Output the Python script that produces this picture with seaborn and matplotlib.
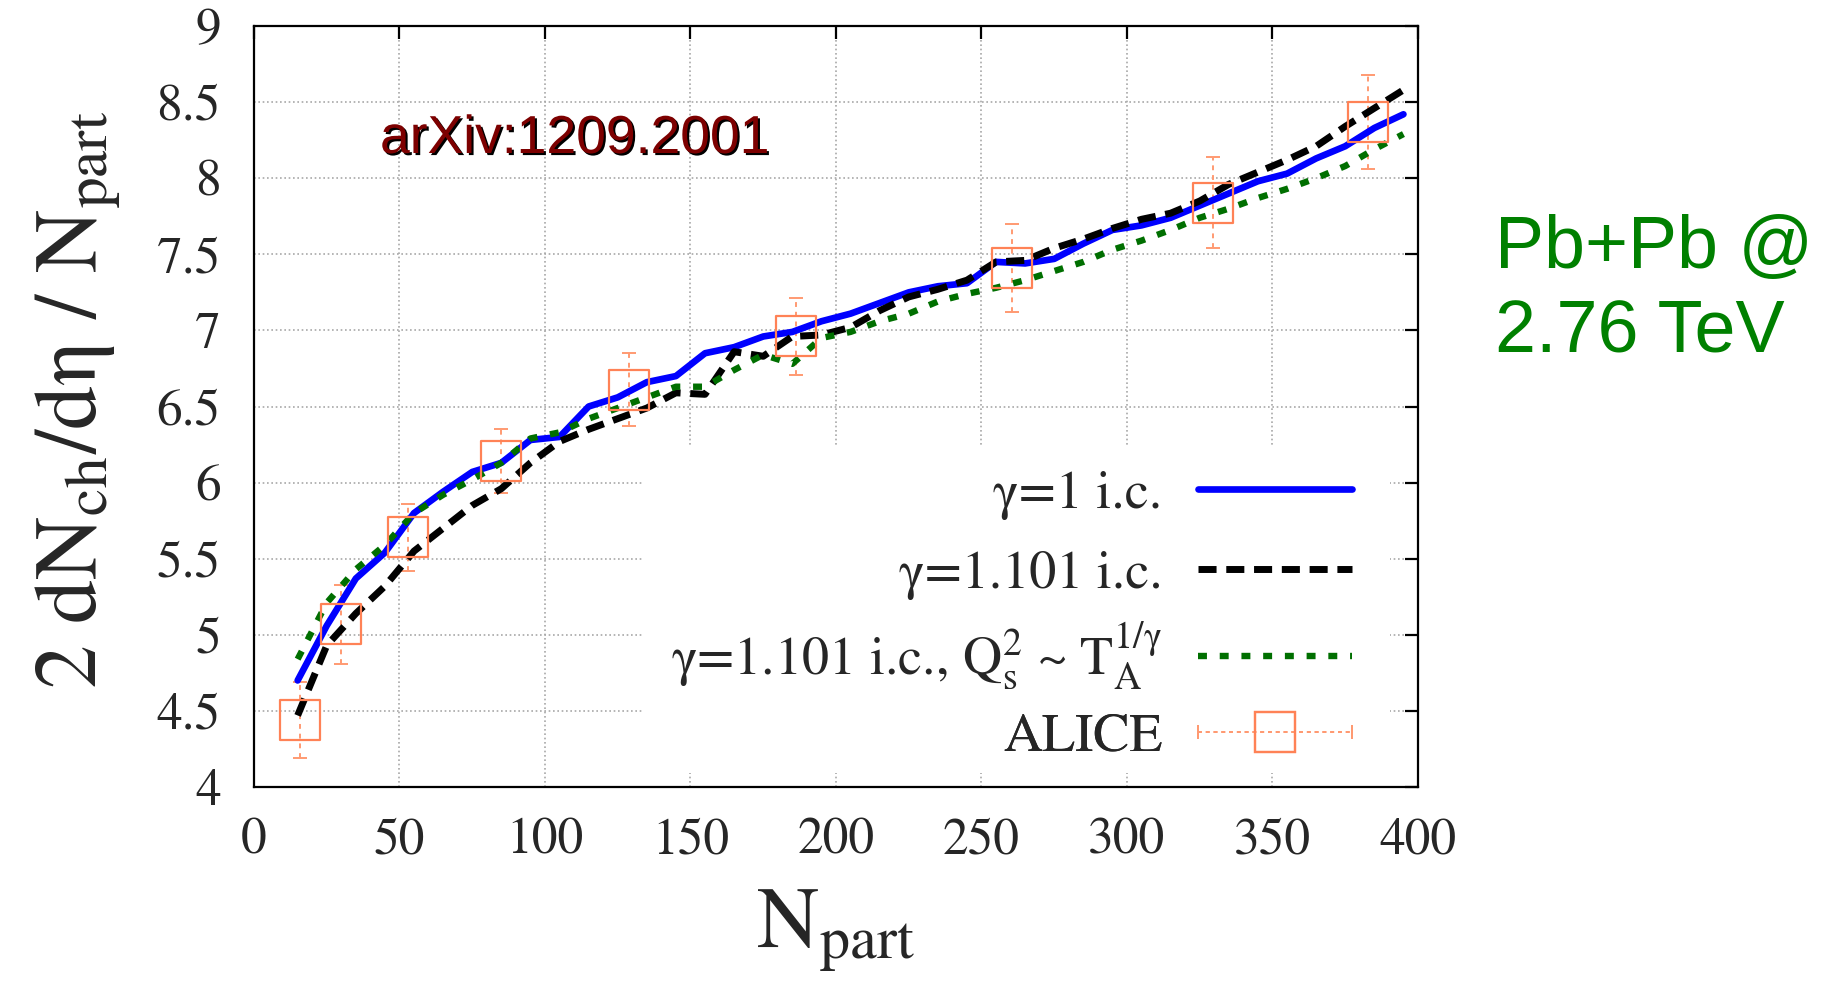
import numpy as np
import pandas as pd
import matplotlib
matplotlib.use("Agg")
import matplotlib.pyplot as plt
import matplotlib.patheffects as pe
from matplotlib.lines import Line2D
from matplotlib.patches import Rectangle
from matplotlib.legend_handler import HandlerLine2D
import seaborn as sns

# ---------------- data ----------------
npart = [15, 25, 35, 45, 55, 65, 75, 85, 95, 105, 115, 125, 135, 145, 155,
         165, 175, 185, 195, 205, 215, 225, 235, 245, 255, 265, 275, 285,
         295, 305, 315, 325, 335, 345, 355, 365, 375, 385, 395]
gamma1 = [4.70, 5.06, 5.37, 5.54, 5.80, 5.94, 6.07, 6.13, 6.28, 6.30, 6.50,
          6.56, 6.66, 6.70, 6.85, 6.89, 6.96, 6.99, 7.06, 7.11, 7.18, 7.25,
          7.29, 7.31, 7.45, 7.44, 7.47, 7.57, 7.66, 7.69, 7.74, 7.82, 7.90,
          7.98, 8.03, 8.13, 8.21, 8.33, 8.42]
gamma1101 = [4.47, 4.93, 5.14, 5.32, 5.55, 5.70, 5.85, 5.96, 6.13, 6.27, 6.35,
             6.42, 6.49, 6.59, 6.58, 6.86, 6.83, 6.96, 6.97, 7.02, 7.13, 7.22,
             7.27, 7.33, 7.45, 7.46, 7.54, 7.60, 7.67, 7.73, 7.77, 7.85, 7.96,
             8.04, 8.12, 8.21, 8.34, 8.46, 8.58]
gamma1101_qs = [4.84, 5.21, 5.43, 5.59, 5.80, 5.92, 6.02, 6.13, 6.29, 6.33,
                6.42, 6.49, 6.56, 6.63, 6.63, 6.74, 6.84, 6.78, 6.95, 6.99,
                7.06, 7.11, 7.19, 7.24, 7.28, 7.33, 7.39, 7.45, 7.53, 7.59,
                7.66, 7.74, 7.80, 7.87, 7.93, 8.00, 8.08, 8.19, 8.29]
alice_npart = [15.8, 30.0, 52.8, 85.0, 128.9, 186.4, 260.5, 329.7, 382.8]
alice_val = [4.44, 5.07, 5.64, 6.14, 6.61, 6.96, 7.41, 7.84, 8.37]
alice_err = [0.25, 0.26, 0.22, 0.21, 0.24, 0.25, 0.29, 0.30, 0.31]

x_ticks = [0, 50, 100, 150, 200, 250, 300, 350, 400]
y_ticks = [4, 4.5, 5, 5.5, 6, 6.5, 7, 7.5, 8, 8.5, 9]
y_ticklabels = ["4", "4.5", "5", "5.5", "6", "6.5", "7", "7.5", "8", "8.5", "9"]

label_g1 = "γ=1 i.c."
label_g2 = "γ=1.101 i.c."
label_g3 = r"γ=1.101 i.c., $\mathrm{Q_s^2}$ ~ $\mathrm{T_A^{1/\gamma}}$"
label_alice = "ALICE"
xlabel = r"N$_\mathrm{part}$"
ylabel = r"2 dN$_\mathrm{ch}$/dη / N$_\mathrm{part}$"
note = "arXiv:1209.2001"
system_lines = ["Pb+Pb @", "2.76 TeV"]

# ---------------- style ----------------
sns.set_theme(style="white")
plt.rcParams["font.family"] = ["STIXGeneral", "Liberation Serif", "DejaVu Serif"]
plt.rcParams["mathtext.fontset"] = "stix"

BLUE = "#0000ff"
BLACK = "#000000"
GREEN = "#006f00"
CORAL = "#ff8256"
CORAL_E = "#ff9a72"

W, H = 1833, 981
fig = plt.figure(figsize=(W / 100, H / 100), dpi=100)
L, R, T, B = 254, 1418, 26, 787
ax = fig.add_axes([L / W, 1 - B / H, (R - L) / W, (B - T) / H])
ax.set_axisbelow(True)

sns.lineplot(x=npart, y=gamma1, ax=ax, color=BLUE, lw=4.8, linestyle="-",
             estimator=None, sort=False, zorder=3)
h1 = ax.lines[-1]
sns.lineplot(x=npart, y=gamma1101, ax=ax, color=BLACK, lw=5.0,
             linestyle=(0, (2.6, 1.4)), estimator=None, sort=False, zorder=3)
h2 = ax.lines[-1]
sns.lineplot(x=npart, y=gamma1101_qs, ax=ax, color=GREEN, lw=4.6,
             linestyle=(0, (1.4, 2.0)), estimator=None, sort=False, zorder=3)
h3 = ax.lines[-1]

eb = ax.errorbar(alice_npart, alice_val, yerr=alice_err, fmt="none",
                 ecolor=CORAL_E, elinewidth=1.4, capsize=5, capthick=1.4,
                 zorder=2.5)
eb[2][0].set_linestyle((0, (2.5, 2.5)))
sns.scatterplot(x=alice_npart, y=alice_val, ax=ax, marker="s", s=830,
                facecolors="none", edgecolor=CORAL, linewidth=1.6, zorder=4)

ax.set_xlim(0, 400)
ax.set_ylim(4, 9)
ax.set_xticks(x_ticks)
ax.set_yticks(y_ticks)
ax.set_yticklabels(y_ticklabels)

ax.grid(True, color="#a8a8a8", linestyle=(0, (1, 1.6)), lw=1.2)
for s in ax.spines.values():
    s.set_color("black")
    s.set_linewidth(1.6)
ax.tick_params(axis="both", direction="in", top=True, right=True,
               length=9.5, width=1.6, color="black", labelsize=37)
ax.tick_params(axis="x", pad=22)
ax.tick_params(axis="y", pad=24)
ax.set_xlabel(xlabel, fontsize=62)
ax.set_ylabel(ylabel, fontsize=63)
ax.xaxis.set_label_coords(0.5, -(931 - B) / (B - T), transform=ax.transAxes)
ax.xaxis.label.set_va("center")
ax.yaxis.set_label_coords(-(254 - 78) / (R - L), 0.509, transform=ax.transAxes)
ax.yaxis.label.set_va("center")

# white box behind the key
ax.add_patch(Rectangle(((643 - L) / (R - L), (B - 773) / (B - T)),
                       (1390 - 643) / (R - L), (773 - 447) / (B - T),
                       transform=ax.transAxes, facecolor="white",
                       edgecolor="none", zorder=1))

cap_line = Line2D([], [], color=CORAL_E, lw=1.4, ls=(0, (2, 2)),
                  marker="|", ms=10, mew=1.4)
sq = Line2D([], [], color=CORAL, marker="s", ms=28.8, mfc="none", mew=1.6,
            ls="none")

key_handles = [h1, h2, h3, (cap_line, sq)]
key_labels = [label_g1, label_g2, label_g3, label_alice]
key_rows_px = [495, 575, 656, 738]
x_anchor = (1352 - L) / (R - L)
for hnd, lab, ypx in zip(key_handles, key_labels, key_rows_px):
    leg = ax.legend([hnd], [lab],
                    handler_map={cap_line: HandlerLine2D(numpoints=2, marker_pad=0),
                                 sq: HandlerLine2D(numpoints=1)},
                    loc="center right",
                    bbox_to_anchor=(x_anchor, (B - ypx) / (B - T)),
                    frameon=False, markerfirst=False, fontsize=39,
                    handlelength=2.85, handletextpad=0.65,
                    borderpad=0, borderaxespad=0)
    ax.add_artist(leg)

txt = ax.text((380 - L) / (R - L), (B - 153) / (B - T), note,
              transform=ax.transAxes, ha="left", va="baseline",
              fontsize=38.5, family=["Liberation Sans", "DejaVu Sans"],
              color="#7d0000", zorder=6)
txt.set_path_effects([pe.SimplePatchShadow(offset=(1.5, -1.5),
                                           shadow_rgbFace="black", alpha=1.0),
                      pe.Normal()])

fig.text(1495 / W, 1 - 268 / H, system_lines[0], ha="left", va="baseline",
         fontsize=53, family=["Liberation Sans", "DejaVu Sans"],
         color="#008000")
fig.text(1495 / W, 1 - 353 / H, system_lines[1], ha="left", va="baseline",
         fontsize=53, family=["Liberation Sans", "DejaVu Sans"],
         color="#008000")

fig.savefig("out.png", dpi=100, facecolor="white")
